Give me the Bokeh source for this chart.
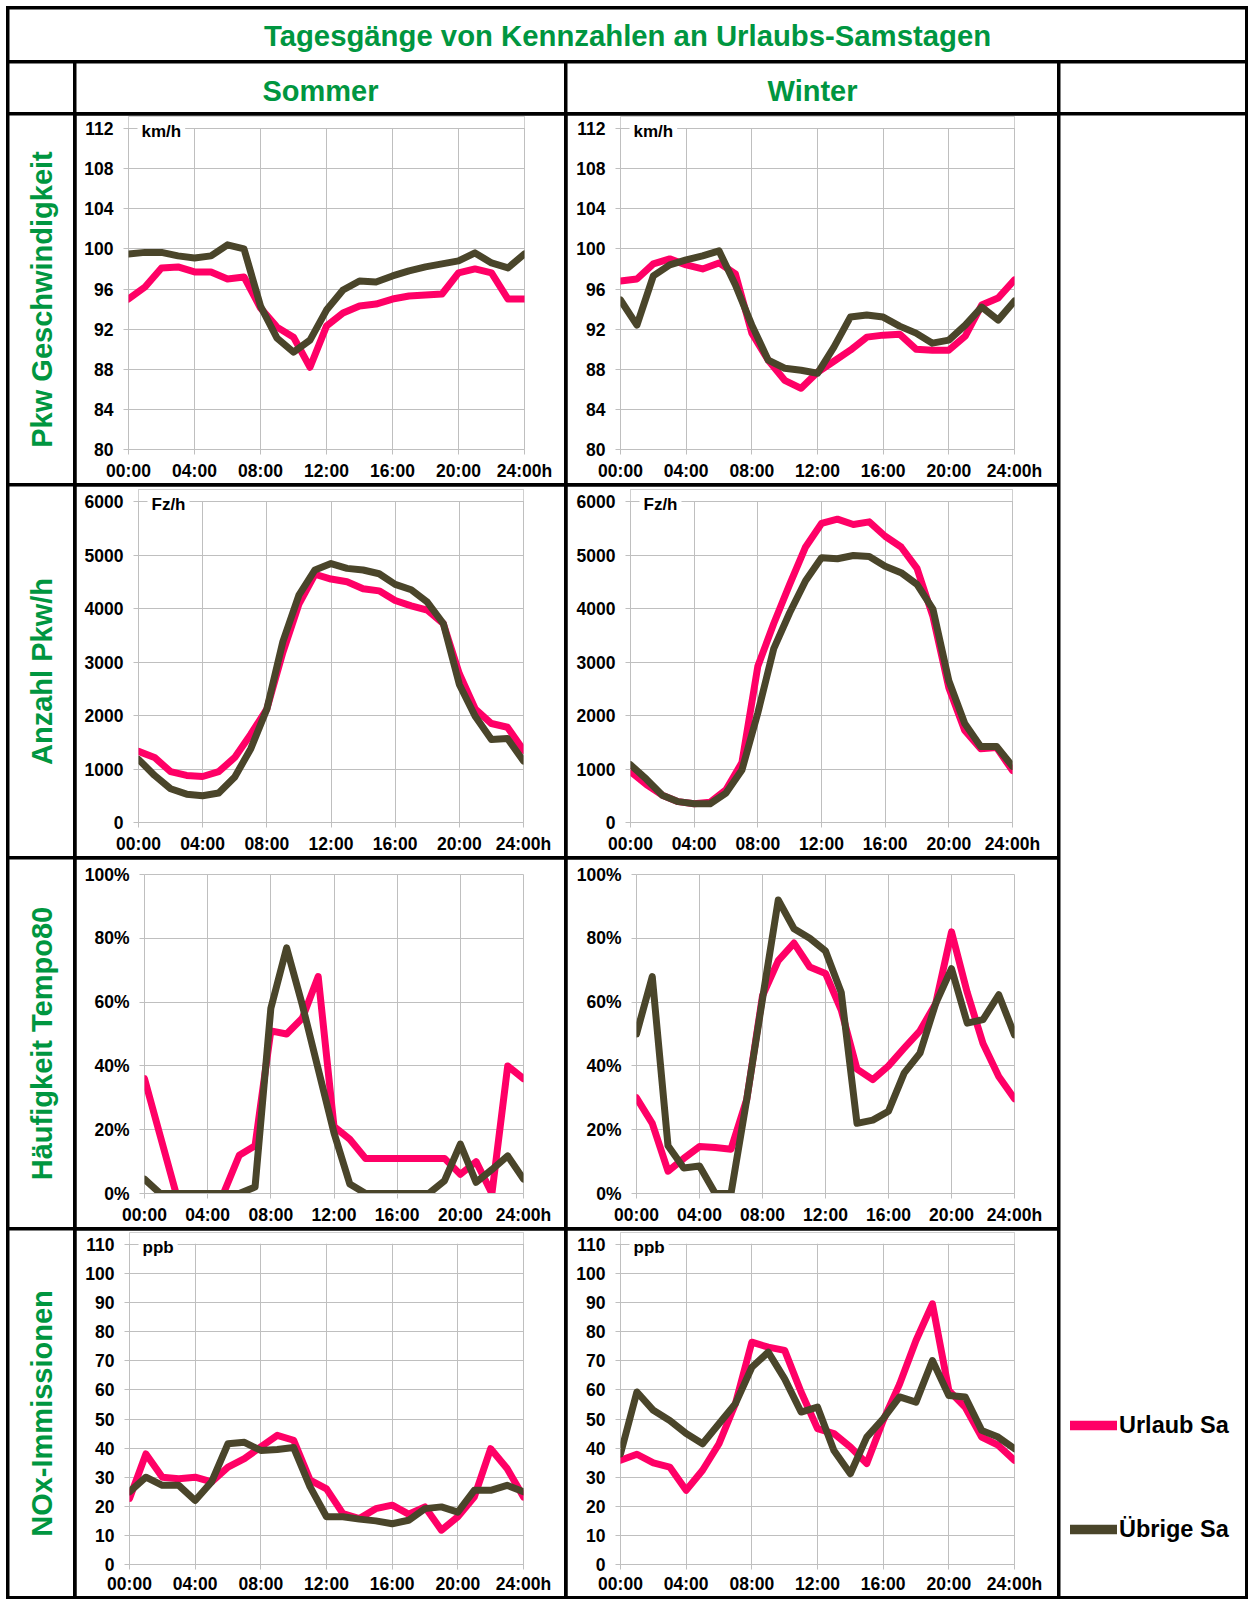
from bokeh.plotting import figure
from bokeh.layouts import column, row
from bokeh.models import Range1d, FixedTicker, Label, Legend, LegendItem, BoxAnnotation
from bokeh.embed import file_html
from bokeh.resources import INLINE

# ---------------- data ----------------
hours = list(range(25))
x_ticks = [0, 4, 8, 12, 16, 20, 24]
x_tick_labels = ["00:00", "04:00", "08:00", "12:00", "16:00", "20:00", "24:00h"]

title_text = "Tagesgänge von Kennzahlen an Urlaubs-Samstagen"
season_labels = ["Sommer", "Winter"]
row_labels = ["Pkw Geschwindigkeit", "Anzahl Pkw/h", "Häufigkeit Tempo80", "NOx-Immissionen"]
series_names = ["Urlaub Sa", "Übrige Sa"]
unit_labels = ["km/h", "Fz/h", "", "ppb"]

speed_ticks = [80, 84, 88, 92, 96, 100, 104, 108, 112]
speed_tick_labels = ["80", "84", "88", "92", "96", "100", "104", "108", "112"]
count_ticks = [0, 1000, 2000, 3000, 4000, 5000, 6000]
count_tick_labels = ["0", "1000", "2000", "3000", "4000", "5000", "6000"]
pct_ticks = [0, 20, 40, 60, 80, 100]
pct_tick_labels = ["0%", "20%", "40%", "60%", "80%", "100%"]
nox_ticks = [0, 10, 20, 30, 40, 50, 60, 70, 80, 90, 100, 110]
nox_tick_labels = ["0", "10", "20", "30", "40", "50", "60", "70", "80", "90", "100", "110"]

# Pkw Geschwindigkeit (km/h)
speed_sommer_urlaub = [95.0, 96.2, 98.1, 98.2, 97.7, 97.7, 97.0, 97.2, 94.1, 92.2, 91.2, 88.2, 92.3,
                       93.6, 94.3, 94.5, 95.0, 95.3, 95.4, 95.5, 97.6, 98.0, 97.6, 95.0, 95.0]
speed_sommer_uebrige = [99.5, 99.65, 99.65, 99.3, 99.1, 99.3, 100.4, 100.0, 94.3, 91.1, 89.7, 90.9, 93.9,
                        95.9, 96.8, 96.7, 97.3, 97.8, 98.2, 98.5, 98.8, 99.6, 98.6, 98.1, 99.5]
speed_winter_urlaub = [96.8, 97.0, 98.5, 99.0, 98.4, 98.0, 98.6, 97.5, 91.6, 88.9, 86.9, 86.1, 87.7,
                       88.8, 89.9, 91.2, 91.4, 91.5, 90.0, 89.9, 89.9, 91.3, 94.4, 95.1, 96.9]
speed_winter_uebrige = [94.9, 92.4, 97.3, 98.4, 98.9, 99.3, 99.8, 96.4, 92.4, 88.9, 88.1, 87.9, 87.6,
                        90.2, 93.2, 93.4, 93.2, 92.3, 91.6, 90.6, 90.9, 92.4, 94.2, 92.9, 94.8]

# Anzahl Pkw/h
count_sommer_urlaub = [1330, 1215, 950, 880, 860, 950, 1215, 1650, 2120, 3180, 4080, 4640, 4550,
                       4500, 4370, 4330, 4150, 4050, 3970, 3720, 2780, 2120, 1850, 1780, 1350]
count_sommer_uebrige = [1180, 880, 630, 530, 500, 550, 850, 1380, 2120, 3380, 4250, 4720, 4840,
                        4750, 4720, 4650, 4450, 4350, 4120, 3720, 2580, 1980, 1550, 1570, 1150]
count_winter_urlaub = [950, 710, 510, 390, 350, 380, 610, 1120, 2920, 3720, 4450, 5150, 5590,
                       5670, 5570, 5620, 5350, 5150, 4750, 3850, 2520, 1720, 1380, 1400, 970]
count_winter_uebrige = [1080, 810, 510, 390, 350, 350, 550, 980, 2050, 3250, 3920, 4520, 4950,
                        4930, 4990, 4970, 4790, 4670, 4450, 3990, 2650, 1850, 1420, 1420, 1050]

# Häufigkeit Tempo80 (%)
t80_sommer_urlaub = [36, 18, 0, 0, 0, 0, 12, 15, 51, 50, 55, 68, 21,
                     17, 11, 11, 11, 11, 11, 11, 6, 10, 0, 40, 36]
t80_sommer_uebrige = [4.5, 0, 0, 0, 0, 0, 0, 2, 58, 77, 59, 39, 19,
                      3, 0, 0, 0, 0, 0, 4, 15.5, 3.5, 7.5, 11.8, 4.5]
t80_winter_urlaub = [30, 22, 7, 11, 14.7, 14.4, 13.9, 29.5, 62, 73, 78.5, 71, 69,
                     57.5, 39, 35.7, 40, 45.6, 51, 59.6, 82, 63, 47, 36.7, 29.7]
t80_winter_uebrige = [50, 68, 15, 8, 8.6, 0, 0, 29.5, 61, 92, 83, 80, 76,
                      63, 22, 23, 25.8, 37.8, 44, 59.6, 70.5, 53.4, 54.5, 62.3, 49.7]

# NOx-Immissionen (ppb)
nox_sommer_urlaub = [22.7, 38, 30, 29.5, 30, 28.4, 33.5, 36.4, 40.4, 44.4, 42.7, 29, 26,
                     17.5, 15.8, 19.2, 20.4, 17.3, 19.8, 11.8, 16.4, 23.2, 39.8, 33, 23.2]
nox_sommer_uebrige = [25, 30, 27.2, 27.2, 22, 28.4, 41.5, 42, 39.2, 39.5, 40.2, 26.7, 16.4,
                      16.4, 15.6, 15, 14, 15.2, 19.2, 19.8, 18, 25.5, 25.5, 27.2, 25]
nox_winter_urlaub = [35.8, 37.9, 34.9, 33.5, 25.5, 32.4, 41.5, 55.3, 76.4, 74.7, 73.6, 59.3, 46.7,
                     45, 40.4, 34.7, 49.5, 62, 77, 89.6, 59.8, 54, 43.8, 41, 35.8]
nox_winter_uebrige = [38, 59.3, 53, 49.5, 45, 41.5, 48.4, 55.3, 67.8, 73, 63.8, 52.4, 54.1,
                      39.2, 31.2, 43.8, 50.1, 57.6, 55.8, 70.1, 58.1, 57.6, 46.1, 43.8, 39.8]

# ---------------- style / layout ----------------
GREEN = "#009640"
PINK = "#FF0066"
DARK = "#4A452A"
GRID = "#BFBFBF"
FONT = "Liberation Sans"
LINE = 3                      # table rule thickness (gap between cells)
LABEL_W, SOM_W, WIN_W, RIGHT_W = 64, 488, 490, 185
TITLE_H, HEAD_H = 51, 49
ROW_HS = [368, 370, 368, 366]
FRAME_TOPS = [13, 15, 15, 14]   # px from cell top to the top gridline
FRAME_H = 321                   # px between lowest and highest gridline
EXT = 12                        # extra frame space above the top gridline (room for unit label)
X_STANDOFF = [6, 6, 6, 4]


def text_cell(width, height, text="", angle=0, size="29px", y_offset=0):
    p = figure(width=width, height=height, x_range=Range1d(0, 1), y_range=Range1d(0, 1),
               output_backend="svg", toolbar_location=None, min_border=0,
               x_axis_location=None, y_axis_location=None, frame_align=False)
    p.grid.visible = False
    p.outline_line_color = None
    p.background_fill_color = "white"
    p.border_fill_color = "white"
    if text:
        p.add_layout(Label(x=0.5, y=0.5, text=text, angle=angle, angle_units="deg",
                           y_offset=y_offset,
                           text_align="center", text_baseline="middle",
                           text_font=FONT, text_font_style="bold",
                           text_font_size=size, text_color=GREEN))
    return p


def chart(width, height, top, left, right, standoff, yrange, yticks, ylabels, unit, s_u, s_d):
    ymin, ymax = yrange
    ext = EXT if unit else 0
    per_px = (ymax - ymin) / FRAME_H
    p = figure(width=width, height=height, x_range=Range1d(0, 24),
               y_range=Range1d(ymin, ymax + ext * per_px),
               output_backend="svg", toolbar_location=None, frame_align=False,
               min_border_left=left, min_border_right=right,
               min_border_top=top - ext, min_border_bottom=height - top - FRAME_H)
    p.outline_line_color = None
    p.background_fill_color = "white"
    p.border_fill_color = "white"
    p.xaxis.ticker = FixedTicker(ticks=x_ticks)
    p.xaxis.major_label_overrides = dict(zip(x_ticks, x_tick_labels))
    p.yaxis.ticker = FixedTicker(ticks=yticks)
    p.yaxis.major_label_overrides = dict(zip(yticks, ylabels))
    for ax in (p.xaxis[0], p.yaxis[0]):
        ax.axis_line_color = GRID
        ax.major_tick_line_color = GRID
        ax.major_tick_out = 5
        ax.major_tick_in = 0
        ax.minor_tick_line_color = None
        ax.major_label_text_font = FONT
        ax.major_label_text_font_style = "bold"
        ax.major_label_text_font_size = "17.5px"
        ax.major_label_text_color = "black"
    p.yaxis.axis_line_color = None          # the 00:00 gridline acts as the axis line
    p.yaxis.major_label_standoff = 10
    p.xaxis.major_label_standoff = standoff
    p.grid.grid_line_color = GRID
    p.grid.grid_line_width = 1
    p.line(hours, s_u, line_color=PINK, line_width=7, line_join="round", line_cap="round")
    p.line(hours, s_d, line_color=DARK, line_width=7, line_join="round", line_cap="round")
    if unit:
        # white strip above the top gridline, then the unit label on top of it
        p.add_layout(BoxAnnotation(bottom=ymax + 0.6 * per_px, fill_color="white", fill_alpha=1,
                                   line_alpha=0))
        p.add_layout(Label(x=0, y=ymax, x_offset=9, y_offset=-3, text=unit,
                           text_baseline="middle", text_align="left",
                           text_font=FONT, text_font_style="bold", text_font_size="17px",
                           text_color="black", background_fill_color="white", padding=4))
    return p


rows_spec = [
    ((80, 112), speed_ticks, speed_tick_labels, speed_sommer_urlaub, speed_sommer_uebrige,
     speed_winter_urlaub, speed_winter_uebrige, (52, 40), (53, 43)),
    ((0, 6000), count_ticks, count_tick_labels, count_sommer_urlaub, count_sommer_uebrige,
     count_winter_urlaub, count_winter_uebrige, (62, 41), (63, 45)),
    ((0, 100), pct_ticks, pct_tick_labels, t80_sommer_urlaub, t80_sommer_uebrige,
     t80_winter_urlaub, t80_winter_uebrige, (68, 41), (69, 43)),
    ((0, 110), nox_ticks, nox_tick_labels, nox_sommer_urlaub, nox_sommer_uebrige,
     nox_winter_urlaub, nox_winter_uebrige, (53, 41), (53, 43)),
]

label_cells = [text_cell(LABEL_W, HEAD_H)]
som_cells = [text_cell(SOM_W, HEAD_H, season_labels[0], y_offset=-3)]
win_cells = [text_cell(WIN_W, HEAD_H, season_labels[1], y_offset=-3)]
for i, (yr, yt, yl, su, sd, wu, wd, sb, wb) in enumerate(rows_spec):
    h, t, so = ROW_HS[i], FRAME_TOPS[i], X_STANDOFF[i]
    label_cells.append(text_cell(LABEL_W, h, row_labels[i], angle=90))
    som_cells.append(chart(SOM_W, h, t, sb[0], sb[1], so, yr, yt, yl, unit_labels[i], su, sd))
    win_cells.append(chart(WIN_W, h, t, wb[0], wb[1], so, yr, yt, yl, unit_labels[i], wu, wd))

# right column: blank header + tall cell holding the legend
tall_h = sum(ROW_HS) + 3 * LINE
leg_fig = text_cell(RIGHT_W, tall_h)
nan = float("nan")
r_u = leg_fig.line([nan], [nan], line_color=PINK, line_width=9.5, line_cap="round")
r_d = leg_fig.line([nan], [nan], line_color=DARK, line_width=9.5, line_cap="round")
legend = Legend(items=[LegendItem(label=series_names[0], renderers=[r_u]),
                       LegendItem(label=series_names[1], renderers=[r_d])],
                location=(10, 53), orientation="vertical", spacing=76,
                padding=0, margin=0, border_line_color=None, background_fill_alpha=0,
                glyph_width=47, glyph_height=28, label_height=28, label_standoff=2,
                label_text_font=FONT, label_text_font_style="bold",
                label_text_font_size="23.5px", label_text_color="black")
leg_fig.add_layout(legend)
right_cells = [text_cell(RIGHT_W, HEAD_H), leg_fig]

body = row([column(label_cells, spacing=LINE), column(som_cells, spacing=LINE),
            column(win_cells, spacing=LINE), column(right_cells, spacing=LINE)], spacing=LINE)
title_cell = text_cell(LABEL_W + SOM_W + WIN_W + RIGHT_W + 3 * LINE, TITLE_H, title_text,
                       size="29.3px")
page = column([title_cell, body], spacing=LINE, margin=(6, 0, 0, 6),
              styles={"background-color": "black", "padding": f"{LINE}px"})

open("out.html", "w").write(file_html(page, INLINE, title="Tagesgänge"))
